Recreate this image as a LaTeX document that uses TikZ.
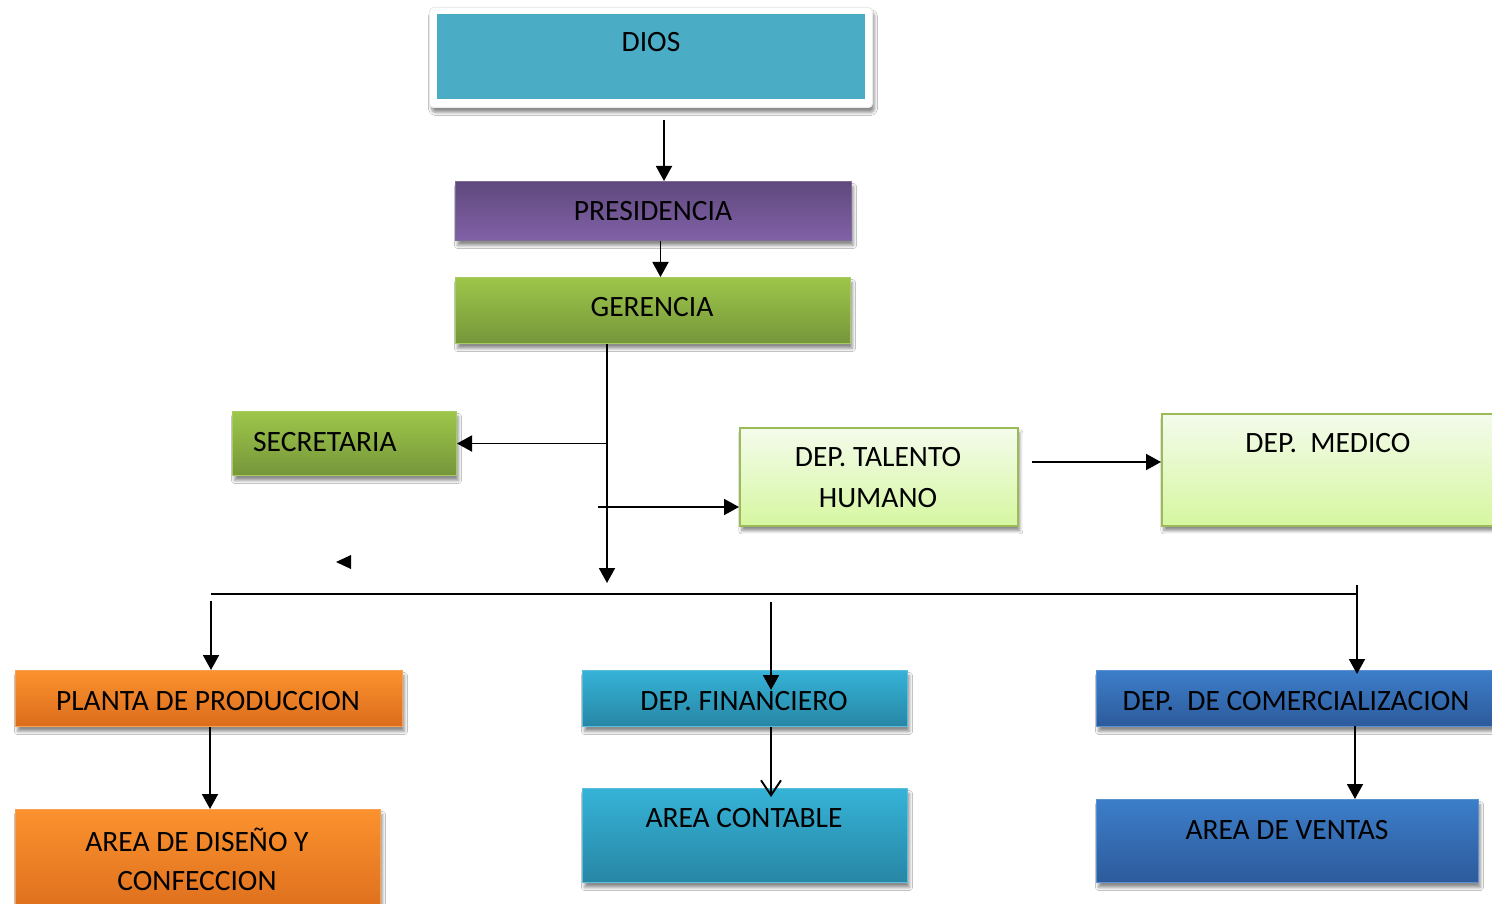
\documentclass[tikz,border=0pt]{standalone}
\usepackage{fontspec}
\setmainfont{Carlito}
\usetikzlibrary{arrows.meta,shadows.blur,calc}

\definecolor{diosblue}{RGB}{75,172,198}
\definecolor{purTop}{RGB}{95,73,124}
\definecolor{purBot}{RGB}{129,97,168}
\definecolor{grnTop}{RGB}{157,198,74}
\definecolor{grnBot}{RGB}{118,150,58}
\definecolor{grnLine}{RGB}{166,204,96}
\definecolor{limeTop}{RGB}{244,251,236}
\definecolor{limeBot}{RGB}{214,247,160}
\definecolor{limeLine}{RGB}{155,187,89}
\definecolor{orgTop}{RGB}{251,146,46}
\definecolor{orgBot}{RGB}{219,108,28}
\definecolor{orgLine}{RGB}{250,160,80}
\definecolor{cyaTop}{RGB}{53,179,215}
\definecolor{cyaBot}{RGB}{40,134,165}
\definecolor{cyaLine}{RGB}{90,190,220}
\definecolor{bluTop}{RGB}{60,126,201}
\definecolor{bluBot}{RGB}{45,90,155}
\definecolor{bluLine}{RGB}{90,145,210}

\tikzset{
  box/.style={rectangle, inner sep=0pt, anchor=north west, line width=1pt,
    blur shadow={shadow xshift=2pt, shadow yshift=-5pt, shadow blur radius=3pt,
                 shadow blur steps=6, shadow opacity=45}},
  purbox/.style={box, draw=purTop!80, top color=purTop, bottom color=purBot},
  grnbox/.style={box, draw=grnLine, top color=grnTop, bottom color=grnBot},
  limebox/.style={box, draw=limeLine, line width=1.6pt, top color=limeTop, bottom color=limeBot},
  orgbox/.style={box, draw=orgLine, top color=orgTop, bottom color=orgBot},
  cyabox/.style={box, draw=cyaLine, top color=cyaTop, bottom color=cyaBot},
  blubox/.style={box, draw=bluLine, top color=bluTop, bottom color=bluBot},
  lbl/.style={inner sep=0pt, font=\fontsize{29.5}{34}\selectfont, text=black},
  arr/.style={line width=1.9pt, -{Triangle[length=15pt,width=16pt]}},
  barb/.style={line width=1.9pt, -{Straight Barb[length=15pt,width=20pt,line width=1.9pt]}},
  wire/.style={line width=1.9pt}
}

\begin{document}
\begin{tikzpicture}[x=1pt,y=-1pt]
\useasboundingbox (0,0) rectangle (1492,904);
\clip (0,0) rectangle (1492,904);
\fill[white] (0,0) rectangle (1492,904);

% top block: white frame with a teal panel inside
\node[box, fill=white, draw=black!8, rounded corners=4pt,
      minimum width=443pt, minimum height=100pt] (frame) at (429,7) {};
\node[inner sep=0pt, anchor=north west, fill=diosblue,
      minimum width=428pt, minimum height=85pt] (dios) at (437,14) {};
\node[lbl] at (651,42) {DIOS};

% management chain
\node[purbox, minimum width=396pt, minimum height=59pt] (pres) at (455,181) {};
\node[lbl] at (653,211) {PRESIDENCIA};
\node[grnbox, minimum width=395pt, minimum height=66pt] (ger) at (455,277) {};
\node[lbl] at (652,307) {GERENCIA};

% staff units
\node[grnbox, minimum width=224pt, minimum height=64pt] (sec) at (232,411) {};
\node[lbl, anchor=west] at (253,442) {SECRETARIA};
\node[limebox, minimum width=278pt, minimum height=98pt] (tal) at (739,427) {};
\node[lbl] at (878,457) {DEP. TALENTO};
\node[lbl] at (878,498) {HUMANO};
\node[limebox, minimum width=345pt, minimum height=112pt] (med) at (1161,413) {};
\node[lbl] at (1328,443) {DEP.~~MEDICO};

% departments
\node[orgbox, minimum width=387pt, minimum height=56pt] (pla) at (15,670) {};
\node[lbl] at (208,701) {PLANTA DE PRODUCCION};
\node[orgbox, minimum width=365pt, minimum height=110pt] (dis) at (15,809) {};
\node[lbl] at (197,840) {AREA DE DISEÑO Y};
\node[lbl] at (197,881) {CONFECCION};

\node[cyabox, minimum width=325pt, minimum height=56pt] (fin) at (582,670) {};
\node[lbl] at (744,701) {DEP. FINANCIERO};
\node[cyabox, minimum width=325pt, minimum height=94pt] (con) at (582,788) {};
\node[lbl] at (744,818) {AREA CONTABLE};

\node[blubox, minimum width=410pt, minimum height=56pt] (com) at (1096,670) {};
\node[lbl] at (1296,701) {DEP.~~DE COMERCIALIZACION};
\node[blubox, minimum width=382pt, minimum height=83pt] (ven) at (1096,799) {};
\node[lbl] at (1287,830) {AREA DE VENTAS};

% free connector ends
\coordinate (d0) at (664,120);
\coordinate (trunk) at (607,583);
\coordinate (t0) at (598,507);
\coordinate (m0) at (1032,462);
\coordinate (busL) at (211,594);
\coordinate (busR) at (1357,594);
\coordinate (p0) at (211,601);
\coordinate (f0) at (771,602);
\coordinate (c0) at (1357,585);
\coordinate (v0) at (1355,726);

% connectors
\draw[arr] (d0) -- (d0 |- pres.north);
\draw[arr] ([xshift=7pt]pres.south) -- ([xshift=7pt]pres.south |- ger.north);
\draw[arr] (trunk |- ger.south) -- (trunk);
\draw[arr] (trunk |- sec.east) -- (sec.east);
\draw[arr] (t0) -- (t0 -| tal.west);
\draw[arr] (m0) -- (m0 -| med.west);
\draw[wire] (busL) -- (busR);
\draw[arr] (p0) -- (p0 |- pla.north);
\draw[arr] (f0) -- ($(f0 |- fin.north)+(0,20)$);
\draw[arr] (c0) -- ($(c0 |- com.north)+(0,4)$);
\draw[arr] ([xshift=1pt]pla.south) -- ([xshift=1pt]pla.south |- dis.north);
\draw[barb] ([xshift=26pt]fin.south) -- ($([xshift=26pt]fin.south |- con.north)+(0,9)$);
\draw[arr] (v0) -- (v0 |- ven.north);

% stray arrowhead
\fill (351,555) -- (336,562) -- (351,569) -- cycle;
\end{tikzpicture}
\end{document}
